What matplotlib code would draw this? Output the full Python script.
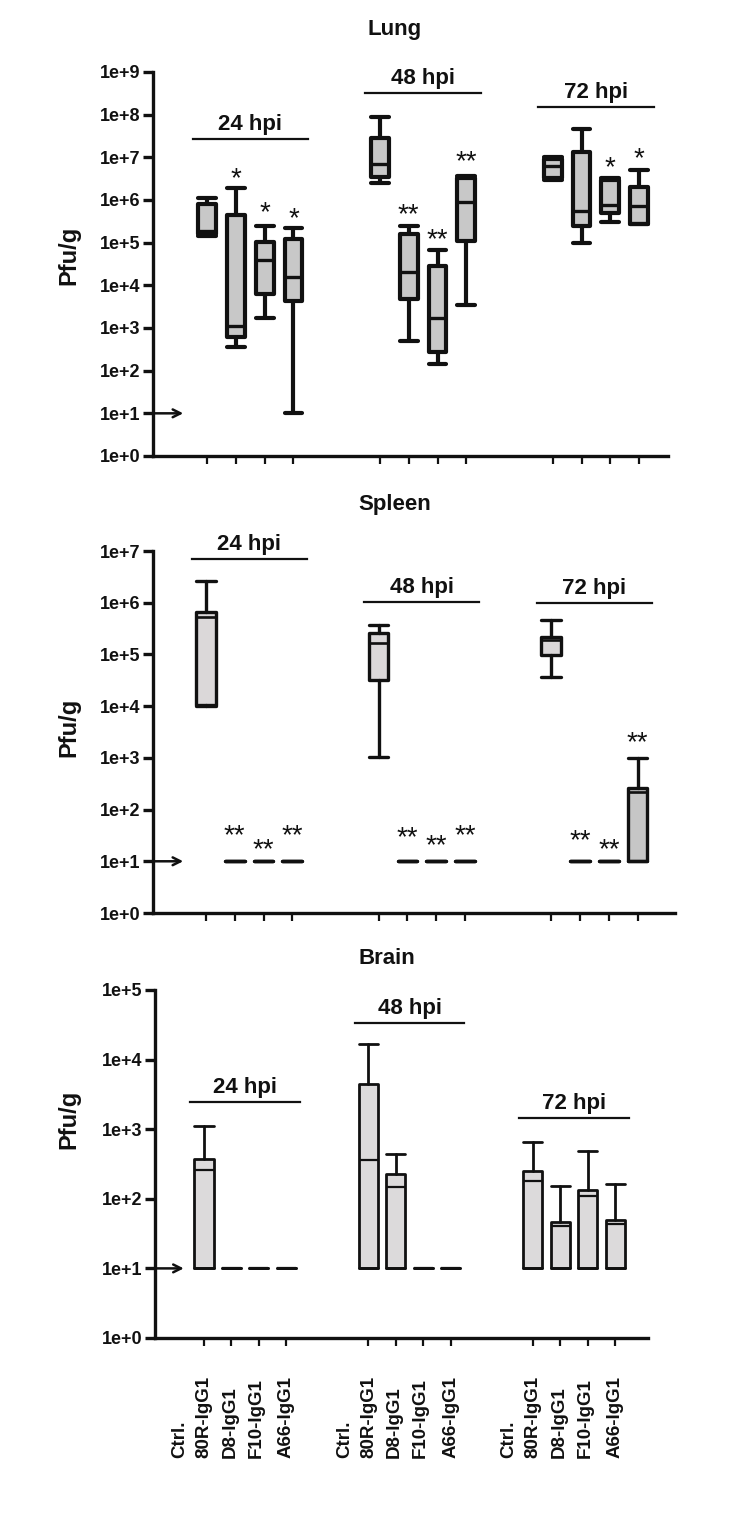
import matplotlib
matplotlib.use('Agg')
import matplotlib.pyplot as plt
from matplotlib import transforms
import numpy as np

plt.rcParams['font.family'] = ['Liberation Sans', 'DejaVu Sans']
plt.rcParams['font.weight'] = 'bold'

hpi_labels = ['24 hpi', '48 hpi', '72 hpi']
group_labels = ['Ctrl.', '80R-IgG1', 'D8-IgG1', 'F10-IgG1', 'A66-IgG1']
positions = [0, 1, 2, 3, 6, 7, 8, 9, 12, 13, 14, 15]

# box stats in pfu/g, 4 boxes per time point (24, 48, 72 hpi)
lung_min = [1.4e5, 3.5e2, 1.7e3, 1e1, 2.5e6, 5e2, 1.4e2, 3.5e3, 3e6, 1e5, 3e5, 2.7e5]
lung_q1 = [1.6e5, 6.3e2, 6.3e3, 4.4e3, 3.5e6, 4.9e3, 2.8e2, 1.1e5, 3.3e6, 2.4e5, 5e5, 2.8e5]
lung_med = [1.9e5, 1.1e3, 4e4, 1.6e4, 6.8e6, 2.1e4, 1.7e3, 9.1e5, 6.3e6, 5.4e5, 7.6e5, 7.1e5]
lung_q3 = [8e5, 4.5e5, 1.05e5, 1.2e5, 2.8e7, 1.6e5, 2.9e4, 3.2e6, 8.9e6, 1.35e7, 2.9e6, 2e6]
lung_max = [1.1e6, 1.9e6, 2.5e5, 2.2e5, 9e7, 2.4e5, 6.9e4, 3.7e6, 1e7, 4.5e7, 3.3e6, 5.1e6]
lung_stars = ['', '*', '*', '*', '', '**', '**', '**', '', '', '*', '*']
lung_star_y = [0, 4.7e6, 7.8e5, 5.4e5, 0, 7e5, 1.8e5, 1.2e7, 0, 0, 8.9e6, 1.4e7]
lung_hpi_y = [2.75e7, 3.2e8, 1.55e8]

spleen_min = [1e4, 10, 10, 10, 1.05e3, 10, 10, 10, 3.7e4, 10, 10, 10]
spleen_q1 = [1.05e4, 10, 10, 10, 3.2e4, 10, 10, 10, 9.8e4, 10, 10, 10.2]
spleen_med = [5.2e5, 10, 10, 10, 1.7e5, 10, 10, 10, 1.9e5, 10, 10, 2.2e2]
spleen_q3 = [6.6e5, 10, 10, 10, 2.6e5, 10, 10, 10, 2.2e5, 10, 10, 2.6e2]
spleen_max = [2.6e6, 10, 10, 10, 3.7e5, 10, 10, 10, 4.7e5, 10, 10, 1e3]
spleen_stars = ['', '**', '**', '**', '', '**', '**', '**', '', '**', '**', '**']
spleen_star_y = [0, 44, 24, 44, 0, 40, 28, 44, 0, 35, 24, 2750]
spleen_hpi_y = [7.1e6, 1.05e6, 1e6]

brain_min = [10] * 12
brain_q1 = [10] * 12
brain_med = [2.6e2, 10, 10, 10, 3.6e2, 1.5e2, 10, 10, 1.8e2, 41, 1.1e2, 44]
brain_q3 = [3.7e2, 10, 10, 10, 4.5e3, 2.3e2, 10, 10, 2.5e2, 47, 1.35e2, 50]
brain_max = [1.1e3, 10, 10, 10, 1.66e4, 4.4e2, 10, 10, 6.5e2, 1.55e2, 4.9e2, 1.65e2]
brain_hpi_y = [2.45e3, 3.4e4, 1.45e3]

ink = '#111111'

fig = plt.figure(figsize=(7.4, 15.14), dpi=100)


def make_stats(mins, q1s, meds, q3s, maxs):
    return [dict(whislo=a, q1=b, med=c, q3=d, whishi=e, fliers=[])
            for a, b, c, d, e in zip(mins, q1s, meds, q3s, maxs)]


def draw_panel(rect, xlim, ymax, stats, lw, fills, width, title, title_xy,
               ylab_y, hpi_y, stars=None, star_y=None):
    ax = fig.add_axes(rect)
    ax.set_yscale('log')
    ax.set_ylim(1, ymax)
    ax.set_xlim(*xlim)
    art = ax.bxp(stats, positions=positions, widths=width, capwidths=width,
                 patch_artist=True, showfliers=False,
                 boxprops=dict(linewidth=lw, edgecolor=ink),
                 whiskerprops=dict(linewidth=lw, color=ink, solid_capstyle='round'),
                 capprops=dict(linewidth=lw, color=ink, solid_capstyle='round'),
                 medianprops=dict(linewidth=lw * 0.8, color=ink))
    for patch, fc in zip(art['boxes'], fills):
        patch.set_facecolor(fc)
        patch.set_joinstyle('round')
    for s in ['top', 'right']:
        ax.spines[s].set_visible(False)
    for s in ['left', 'bottom']:
        ax.spines[s].set_linewidth(2.4)
        ax.spines[s].set_color(ink)
    decades = int(round(np.log10(ymax)))
    ax.set_yticks([10.0 ** k for k in range(decades + 1)])
    ax.set_yticklabels(['1e+%d' % k for k in range(decades + 1)])
    ax.minorticks_off()
    ax.tick_params(axis='y', length=7, width=2.4, pad=2, labelsize=13, colors=ink)
    ax.set_xticks(positions)
    ax.set_xticklabels([])
    ax.tick_params(axis='x', length=6, width=1.6, colors=ink)

    # detection limit arrow
    ax.annotate('', xy=(xlim[0] + 1.05, 10), xytext=(xlim[0], 10),
                arrowprops=dict(arrowstyle='->', lw=1.8, color=ink,
                                shrinkA=0, shrinkB=0, mutation_scale=14),
                annotation_clip=False)

    for g, lab in enumerate(hpi_labels):
        b = positions[4 * g]
        ax.plot([b - 0.5, b + 3.5], [hpi_y[g]] * 2, color=ink, lw=1.6,
                clip_on=False)
        ax.annotate(lab, (b + 1.5, hpi_y[g]), xytext=(0, 6.5),
                    textcoords='offset points', ha='center', va='baseline',
                    fontsize=16, color=ink, annotation_clip=False)

    if stars is not None:
        for x, s, y in zip(positions, stars, star_y):
            if s:
                ax.annotate(s, (x, y), xytext=(0, -11), textcoords='offset points',
                            ha='center', va='baseline', fontsize=20,
                            fontweight='normal', color=ink, annotation_clip=False)

    fig.text(title_xy[0] / 740, 1 - title_xy[1] / 1514, title, ha='center',
             va='center', fontsize=16, color=ink)
    fig.text(69 / 740, 1 - ylab_y / 1514, 'Pfu/g', rotation=90, ha='center',
             va='center', fontsize=17, color=ink)
    return ax


lung_stats = make_stats(lung_min, lung_q1, lung_med, lung_q3, lung_max)
draw_panel([153 / 740, 1 - 456 / 1514, 515 / 740, 384 / 1514], (-1.875, 16.0),
           1e9, lung_stats, 3.0, ['#c8c8c8'] * 12, 0.62, 'Lung', (395, 30),
           255, lung_hpi_y, lung_stars, lung_star_y)

spleen_fill = ['#dbd8d9'] * 11 + ['#c6c6c6']
spleen_stats = make_stats(spleen_min, spleen_q1, spleen_med, spleen_q3, spleen_max)
draw_panel([153 / 740, 1 - 913 / 1514, 522 / 740, 362 / 1514], (-1.84, 16.3),
           1e7, spleen_stats, 2.4, spleen_fill, 0.68, 'Spleen', (395, 505),
           727, spleen_hpi_y, spleen_stars, spleen_star_y)

brain_stats = make_stats(brain_min, brain_q1, brain_med, brain_q3, brain_max)
ax3 = draw_panel([155 / 740, 1 - 1338 / 1514, 493 / 740, 348 / 1514], (-1.79, 16.2),
                 1e5, brain_stats, 2.0, ['#dcdadb'] * 12, 0.7, 'Brain', (387, 958),
                 1119, brain_hpi_y)

# group labels sit slightly left of the ticks, as in the original figure
label_offsets = [-0.88, 0.0, 0.95, 1.9, 3.0]
trans = transforms.blended_transform_factory(ax3.transData, fig.transFigure)
for g in range(3):
    b = positions[4 * g]
    for off, lab in zip(label_offsets, group_labels):
        ax3.text(b + off, 1 - 1458 / 1514, lab, rotation=90, ha='center',
                 va='bottom', fontsize=13.5, color=ink, transform=trans)

fig.savefig('out.png', dpi=100, facecolor='white')
